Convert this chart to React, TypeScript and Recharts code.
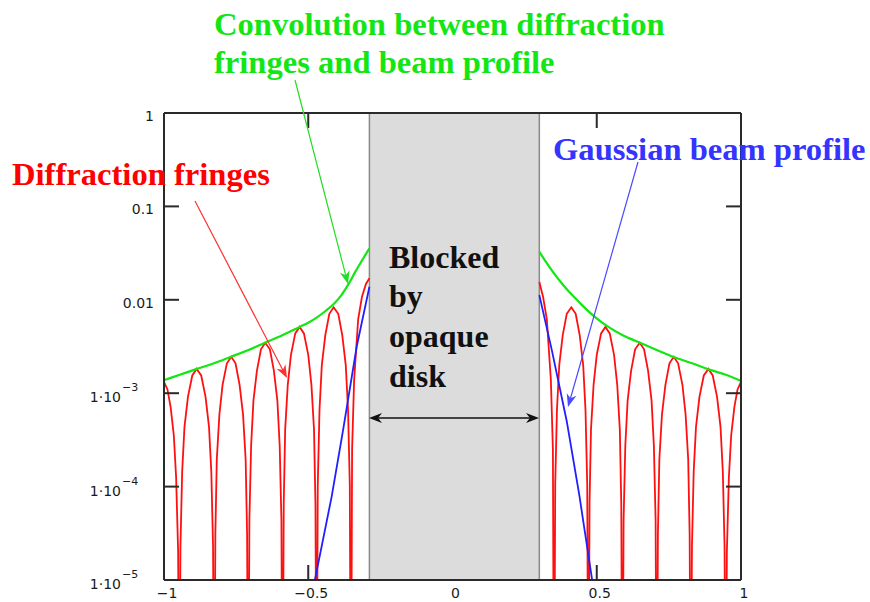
import { LineChart, Line, XAxis, YAxis, ReferenceArea } from "recharts";

// axis ticks
const xTicks = [-1, -0.5, 0, 0.5, 1];
const xTickLabels = ["\u22121", "\u22120.5", "0", "0.5", "1"];
const yTicks = [1e-5, 1e-4, 1e-3, 0.01, 0.1, 1];
const yTickLabels = ["1\u00b710", "1\u00b710", "1\u00b710", "0.01", "0.1", "1"];
const yTickPowers = ["\u22125", "\u22124", "\u22123", "", "", ""];

// blocked region (opaque disk)
const diskEdges = [-0.288, 0.301];

// diffraction fringes, log10 of intensity (-7 = dark fringe, below the axis)
const fringeLeftX = [
  -1.0, -0.988, -0.977, -0.966, -0.958, -0.951, -0.947,
  -0.943, -0.937, -0.929, -0.917, -0.902, -0.887, -0.871, -0.856, -0.844, -0.836, -0.83, -0.826,
  -0.822, -0.817, -0.808, -0.797, -0.782, -0.767, -0.752, -0.738, -0.726, -0.717, -0.712, -0.708,
  -0.704, -0.698, -0.69, -0.678, -0.664, -0.649, -0.633, -0.619, -0.607, -0.599, -0.593, -0.589,
  -0.585, -0.58, -0.571, -0.56, -0.545, -0.53, -0.515, -0.5, -0.489, -0.48, -0.475, -0.471,
  -0.467, -0.461, -0.453, -0.441, -0.427, -0.412, -0.396, -0.382, -0.37, -0.362, -0.356, -0.352,
  -0.348, -0.341, -0.327, -0.314, -0.3, -0.288,
];
const fringeLeftLog = [
  -2.88, -2.96, -3.15, -3.45, -3.9, -4.7, -7,
  -4.64, -3.84, -3.36, -3.04, -2.81, -2.74, -2.81, -3.04, -3.36, -3.84, -4.64, -7,
  -4.51, -3.71, -3.23, -2.91, -2.68, -2.61, -2.68, -2.91, -3.23, -3.71, -4.51, -7,
  -4.36, -3.56, -3.08, -2.76, -2.53, -2.46, -2.53, -2.76, -3.08, -3.56, -4.36, -7,
  -4.19, -3.39, -2.91, -2.59, -2.36, -2.29, -2.36, -2.59, -2.91, -3.39, -4.19, -7,
  -3.98, -3.18, -2.7, -2.38, -2.15, -2.08, -2.15, -2.38, -2.7, -3.18, -3.98, -7,
  -3.6, -2.86, -2.21, -1.97, -1.83, -1.77,
];
const fringeRightX = [
  0.301, 0.314, 0.327, 0.341, 0.348, 0.352,
  0.356, 0.362, 0.37, 0.382, 0.396, 0.412, 0.427, 0.441, 0.453, 0.461, 0.467, 0.471,
  0.475, 0.48, 0.489, 0.5, 0.515, 0.53, 0.545, 0.56, 0.571, 0.58, 0.585, 0.589,
  0.593, 0.599, 0.607, 0.619, 0.633, 0.649, 0.664, 0.678, 0.69, 0.698, 0.704, 0.708,
  0.712, 0.717, 0.726, 0.738, 0.752, 0.767, 0.782, 0.797, 0.808, 0.817, 0.822, 0.826,
  0.83, 0.836, 0.844, 0.856, 0.871, 0.887, 0.902, 0.917, 0.929, 0.937, 0.943, 0.947,
  0.951, 0.958, 0.966, 0.977, 0.988, 1.0,
];
const fringeRightLog = [
  -1.81, -1.97, -2.21, -2.86, -3.6, -7,
  -3.98, -3.18, -2.7, -2.38, -2.15, -2.08, -2.15, -2.38, -2.7, -3.18, -3.98, -7,
  -4.19, -3.39, -2.91, -2.59, -2.36, -2.29, -2.36, -2.59, -2.91, -3.39, -4.19, -7,
  -4.36, -3.56, -3.08, -2.76, -2.53, -2.46, -2.53, -2.76, -3.08, -3.56, -4.36, -7,
  -4.51, -3.71, -3.23, -2.91, -2.68, -2.61, -2.68, -2.91, -3.23, -3.71, -4.51, -7,
  -4.64, -3.84, -3.36, -3.04, -2.81, -2.74, -2.81, -3.04, -3.36, -3.84, -4.64, -7,
  -4.7, -3.9, -3.45, -3.15, -2.96, -2.88,
];

// convolution with the beam profile (envelope)
const envLeftX = [-1.0, -0.943, -0.886, -0.827, -0.768, -0.709, -0.65, -0.59, -0.53, -0.5, -0.471, -0.44, -0.41, -0.385, -0.36, -0.335, -0.31, -0.288];
const envLeftLog = [-2.86, -2.8, -2.74, -2.68, -2.61, -2.54, -2.46, -2.38, -2.29, -2.245, -2.19, -2.12, -2.04, -1.95, -1.83, -1.69, -1.56, -1.45];
const envRightX = [0.301, 0.325, 0.35, 0.375, 0.4, 0.425, 0.45, 0.488, 0.535, 0.59, 0.65, 0.71, 0.764, 0.83, 0.893, 0.945, 1.0];
const envRightLog = [-1.485, -1.6, -1.71, -1.81, -1.9, -1.98, -2.06, -2.17, -2.28, -2.38, -2.46, -2.54, -2.61, -2.68, -2.75, -2.8, -2.87];

// gaussian beam profile
const beamLeftX = [-0.49, -0.477, -0.419, -0.379, -0.332, -0.288];
const beamLeftLog = [-5.25, -5.0, -4.11, -3.39, -2.5, -1.86];
const beamRightX = [0.301, 0.345, 0.396, 0.44, 0.484, 0.495];
const beamRightLog = [-1.95, -2.55, -3.3, -4.1, -5.0, -5.25];

const toPoints = (xs: number[], logs: number[]) => xs.map((x, i) => ({ x, y: Math.pow(10, logs[i]) }));

const RED = "#ff1010";
const GREEN = "#14e614";
const BLUE = "#2020ff";
const AXIS = "#2a2a2a";
const tickFont = { fontFamily: "'DejaVu Sans', sans-serif", fontSize: 14, fill: "#1a1a1a" };
const noteFont = { fontFamily: "'Liberation Serif', 'Times New Roman', serif", fontWeight: 700, fontSize: 32.6 };

function LeftTick(props: any) {
  const { x, y, payload } = props;
  const i = yTicks.indexOf(payload.value);
  const pow = yTickPowers[i];
  return (
    <g>
      <line x1={x} x2={x + 15} y1={y} y2={y} stroke={AXIS} strokeWidth={2} />
      {pow ? (
        <>
          <text x={x - 43} y={y + 9} textAnchor="end" {...tickFont}>{yTickLabels[i]}</text>
          <text x={x - 42} y={y - 2} {...tickFont} fontSize={11}>{pow}</text>
        </>
      ) : (
        <text x={x - 10} y={y + 8} textAnchor="end" {...tickFont}>{yTickLabels[i]}</text>
      )}
    </g>
  );
}

function RightTick(props: any) {
  const { x, y } = props;
  return <line x1={x - 15} x2={x} y1={y} y2={y} stroke={AXIS} strokeWidth={2} />;
}

function BottomTick(props: any) {
  const { x, y, payload } = props;
  const i = xTicks.indexOf(payload.value);
  const inner = Math.abs(payload.value) === 0.5;
  return (
    <g>
      {inner && <line x1={x} x2={x} y1={y} y2={y - 15} stroke={AXIS} strokeWidth={2} />}
      <text x={x + 3} y={y + 18} textAnchor="middle" {...tickFont}>{xTickLabels[i]}</text>
    </g>
  );
}

function TopTick(props: any) {
  const { x, y, payload } = props;
  if (Math.abs(payload.value) !== 0.5) return <g />;
  return <line x1={x} x2={x} y1={y} y2={y + 15} stroke={AXIS} strokeWidth={2} />;
}

function Arrow({ x1, y1, x2, y2, color, width = 1.2 }: any) {
  const a = Math.atan2(y2 - y1, x2 - x1);
  const L = 13;
  const W = 5;
  const bx = x2 - L * Math.cos(a);
  const by = y2 - L * Math.sin(a);
  const nx = -Math.sin(a) * W;
  const ny = Math.cos(a) * W;
  const mx = x2 - 0.7 * L * Math.cos(a);
  const my = y2 - 0.7 * L * Math.sin(a);
  return (
    <g>
      <line x1={x1} y1={y1} x2={mx} y2={my} stroke={color} strokeWidth={width} />
      <polygon points={`${x2},${y2} ${bx + nx},${by + ny} ${mx},${my} ${bx - nx},${by - ny}`} fill={color} />
    </g>
  );
}

export default function App() {
  return (
    <div style={{ position: "absolute", left: 0, top: 0, width: 870, height: 602, background: "#fff" }}>
      <LineChart width={870} height={602} margin={{ top: 0, right: 0, bottom: 0, left: 0 }}>
        <XAxis
          dataKey="x"
          type="number"
          domain={[-1, 1]}
          ticks={xTicks}
          interval={0}
          allowDataOverflow
          height={22}
          tickSize={0}
          tickMargin={0}
          tickLine={false}
          axisLine={{ stroke: AXIS, strokeWidth: 2 }}
          tick={<BottomTick />}
        />
        <XAxis
          xAxisId="top"
          orientation="top"
          dataKey="x"
          type="number"
          domain={[-1, 1]}
          ticks={xTicks}
          interval={0}
          allowDataOverflow
          height={113}
          tickSize={0}
          tickMargin={0}
          tickLine={false}
          axisLine={{ stroke: AXIS, strokeWidth: 2 }}
          tick={<TopTick />}
        />
        <YAxis
          type="number"
          scale="log"
          domain={[1e-5, 1]}
          ticks={yTicks}
          interval={0}
          allowDataOverflow
          width={164}
          tickSize={0}
          tickMargin={0}
          tickLine={false}
          axisLine={{ stroke: AXIS, strokeWidth: 2 }}
          tick={<LeftTick />}
        />
        <YAxis
          yAxisId="right"
          orientation="right"
          type="number"
          scale="log"
          domain={[1e-5, 1]}
          ticks={yTicks}
          interval={0}
          allowDataOverflow
          width={129}
          tickSize={0}
          tickMargin={0}
          tickLine={false}
          axisLine={{ stroke: AXIS, strokeWidth: 2 }}
          tick={<RightTick />}
        />
        <Line data={toPoints(fringeLeftX, fringeLeftLog)} dataKey="y" type="linear" stroke={RED} strokeWidth={1.8} dot={false} isAnimationActive={false} />
        <Line data={toPoints(fringeRightX, fringeRightLog)} dataKey="y" type="linear" stroke={RED} strokeWidth={1.8} dot={false} isAnimationActive={false} />
        <Line data={toPoints(beamLeftX, beamLeftLog)} dataKey="y" type="linear" stroke={BLUE} strokeWidth={1.8} dot={false} isAnimationActive={false} />
        <Line data={toPoints(beamRightX, beamRightLog)} dataKey="y" type="linear" stroke={BLUE} strokeWidth={1.8} dot={false} isAnimationActive={false} />
        <Line data={toPoints(envLeftX, envLeftLog)} dataKey="y" type="monotone" stroke={GREEN} strokeWidth={2.2} dot={false} isAnimationActive={false} />
        <Line data={toPoints(envRightX, envRightLog)} dataKey="y" type="monotone" stroke={GREEN} strokeWidth={2.2} dot={false} isAnimationActive={false} />
        <ReferenceArea x1={diskEdges[0]} x2={diskEdges[1]} fill="#dcdcdc" fillOpacity={1} stroke="#8a8a8a" strokeWidth={1.5} />
      </LineChart>

      <svg width={870} height={602} style={{ position: "absolute", left: 0, top: 0, pointerEvents: "none" }}>
        <text x={214} y={35} fill={GREEN} {...noteFont}>Convolution between diffraction</text>
        <text x={214} y={73} fill={GREEN} {...noteFont}>fringes and beam profile</text>
        <text x={12} y={185} fill="#ff0000" {...noteFont}>Diffraction fringes</text>
        <text x={553} y={160} fill="#3434ff" {...noteFont}>Gaussian beam profile</text>
        <text x={389} y={268} fill="#111" {...noteFont} fontSize={32}>Blocked</text>
        <text x={389} y={307} fill="#111" {...noteFont} fontSize={32}>by</text>
        <text x={389} y={347} fill="#111" {...noteFont} fontSize={32}>opaque</text>
        <text x={389} y={387} fill="#111" {...noteFont} fontSize={32}>disk</text>

        <Arrow x1={295} y1={80} x2={348} y2={284} color="#22dd22" />
        <Arrow x1={195} y1={201} x2={287} y2={378} color="#ff3030" />
        <Arrow x1={638} y1={162} x2={568} y2={407} color="#4a4aff" />
        <Arrow x1={454} y1={418} x2={369} y2={418} color="#111" width={1.3} />
        <Arrow x1={454} y1={418} x2={539} y2={418} color="#111" width={1.3} />
      </svg>
    </div>
  );
}
